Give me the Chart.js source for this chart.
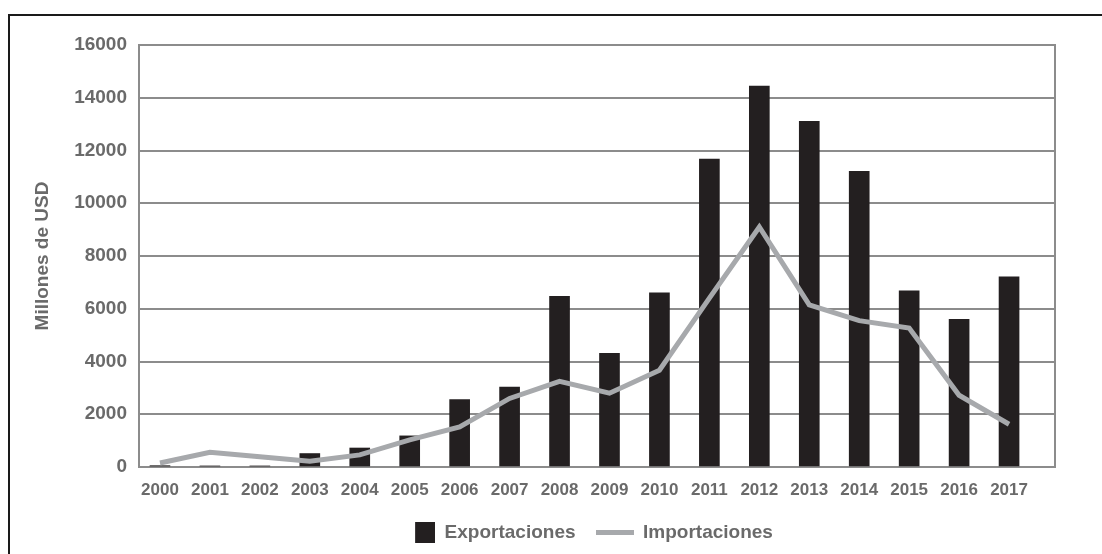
<!DOCTYPE html>
<html>
<head>
<meta charset="utf-8">
<script src="https://cdn.jsdelivr.net/npm/chart.js@4.4.1/dist/chart.umd.min.js"></script>
<style>
  html, body { margin: 0; padding: 0; background: #fff; overflow: hidden; }
  #wrap { position: relative; width: 1102px; height: 554px; overflow: hidden; background: #fff; }
  #chart { position: absolute; left: 0; top: 0; }
  #frame {
    position: absolute; left: 8px; top: 14px; right: 0; bottom: 0;
    border-top: 2px solid #1a1a1a; border-left: 2px solid #1a1a1a;
    pointer-events: none;
  }
</style>
</head>
<body>
<div id="wrap">
  <canvas id="chart" width="1170" height="554"></canvas>
  <div id="frame"></div>
</div>
<script>
const years = [2000, 2001, 2002, 2003, 2004, 2005, 2006, 2007, 2008,
               2009, 2010, 2011, 2012, 2013, 2014, 2015, 2016, 2017];
const exportaciones = [50, 40, 40, 510, 720, 1180, 2560, 3030, 6470,
                       4310, 6600, 11670, 14440, 13110, 11210, 6680, 5600, 7210];
const importaciones = [150, 560, 390, 220, 460, 1030, 1520, 2600, 3250,
                       2800, 3670, 6400, 9100, 6150, 5550, 5270, 2720, 1620];
const yMin = 0, yMax = 16000, yStep = 2000;

const gray = "#8c8c8c";
const textGray = "#6a6a6a";
const barColor = "#231f20";
const lineColor = "#a7a9ac";

// legend symbols: small square and a short thick line
function legendSquare() {
  const c = document.createElement("canvas");
  c.width = 38; c.height = 21;
  const g = c.getContext("2d");
  g.fillStyle = barColor;
  g.fillRect(18, 0, 20, 21);
  return c;
}
function legendLine() {
  const c = document.createElement("canvas");
  c.width = 38; c.height = 5;
  const g = c.getContext("2d");
  g.fillStyle = lineColor;
  g.fillRect(0, 0, 38, 5);
  return c;
}
const symbols = [legendSquare(), legendLine()];

new Chart(document.getElementById("chart"), {
  type: "bar",
  data: {
    labels: years,
    datasets: [
      {
        type: "bar",
        label: "Exportaciones",
        data: exportaciones,
        backgroundColor: barColor,
        barThickness: 20,
        order: 1,
      },
      {
        type: "line",
        label: "Importaciones",
        data: importaciones,
        borderColor: lineColor,
        backgroundColor: lineColor,
        borderWidth: 5,
        pointRadius: 0,
        tension: 0,
        order: 0,
      },
    ],
  },
  options: {
    responsive: false,
    animation: false,
    layout: { padding: { top: 45, left: 0, right: 0, bottom: 2 } },
    plugins: {
      tooltip: { enabled: false },
      legend: {
        position: "bottom",
        labels: {
          usePointStyle: true,
          pointStyleWidth: 38,
          padding: 20,
          color: textGray,
          font: { family: "Liberation Sans", size: 19, weight: "bold" },
          generateLabels(chart) {
            const items = Chart.defaults.plugins.legend.labels.generateLabels(chart);
            items.sort((a, b) => a.datasetIndex - b.datasetIndex);
            items.forEach(it => { it.pointStyle = symbols[it.datasetIndex]; });
            return items;
          },
        },
      },
    },
    scales: {
      x: {
        type: "linear",
        offset: false,
        min: 1999.58,
        max: 2017.92,
        grid: { display: false },
        border: { display: true, color: gray, width: 2 },
        afterFit(scale) { scale.height = 36; },
        ticks: {
          stepSize: 1,
          includeBounds: false,
          autoSkip: false,
          maxRotation: 0,
          padding: 5,
          color: textGray,
          font: { family: "Liberation Sans", size: 17, weight: "bold" },
          callback: v => Number.isInteger(v) ? String(v) : "",
        },
      },
      y: {
        min: yMin,
        max: yMax,
        afterFit(scale) { scale.width = 139; },
        grid: { color: gray, lineWidth: 2, drawTicks: false },
        border: { display: true, color: gray, width: 2 },
        ticks: {
          stepSize: yStep,
          padding: 12,
          color: textGray,
          font: { family: "Liberation Sans", size: 19, weight: "bold" },
          callback: v => String(v),
        },
        title: {
          display: true,
          text: "Millones de USD",
          color: textGray,
          padding: { top: 31, bottom: 0 },
          font: { family: "Liberation Sans", size: 19, weight: "bold" },
        },
      },
      yRight: {
        type: "linear",
        position: "right",
        min: yMin,
        max: yMax,
        afterFit(scale) { scale.width = 115; },
        grid: { display: false },
        ticks: { display: false },
        border: { display: true, color: gray, width: 2 },
      },
    },
  },
});
</script>
</body>
</html>
